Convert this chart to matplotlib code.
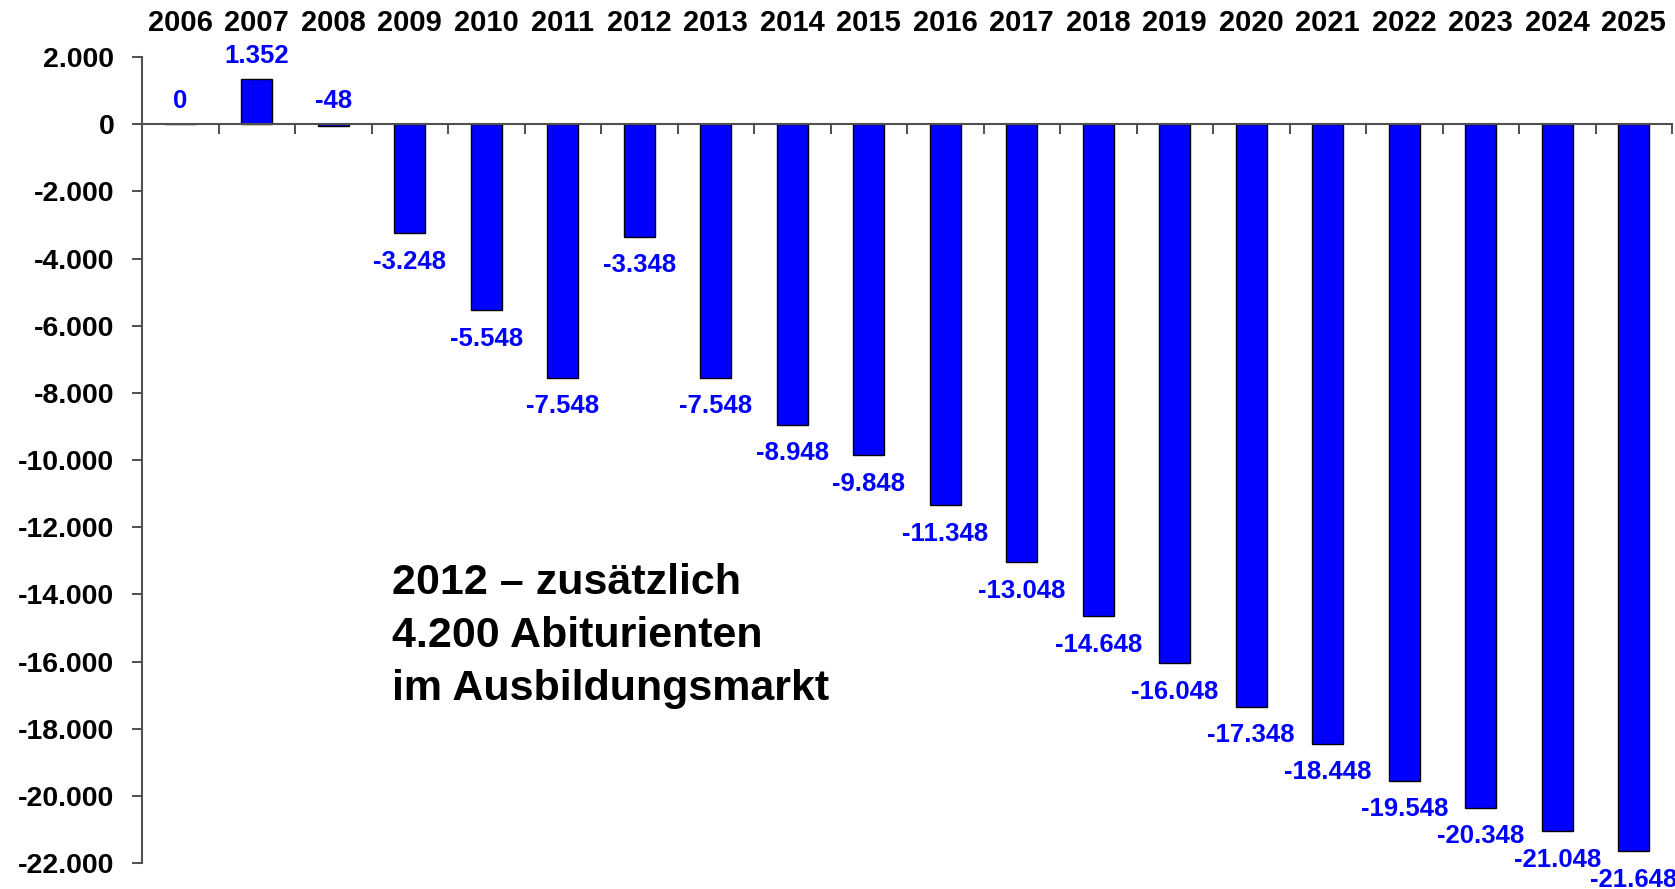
import matplotlib
matplotlib.use("Agg")
import matplotlib.pyplot as plt
import matplotlib.ticker as mticker
from matplotlib.transforms import blended_transform_factory

years = [str(y) for y in range(2006, 2026)]
values = [0, 1352, -48, -3248, -5548, -7548, -3348, -7548, -8948, -9848,
          -11348, -13048, -14648, -16048, -17348, -18448, -19548, -20348,
          -21048, -21648]
yticks = list(range(2000, -22001, -2000))
note = "2012 – zusätzlich\n4.200 Abiturienten\nim Ausbildungsmarkt"

plt.rcParams['font.family'] = ['Liberation Sans', 'DejaVu Sans']

fig = plt.figure(figsize=(16.75, 8.89), dpi=100)
ax = fig.add_axes([142/1675, 26/889, 1530/1675, 806/889])

x = list(range(len(years)))
ax.bar(x, values, width=0.41, color='#0000FF', edgecolor='black', linewidth=1.0, zorder=3)

ax.set_xlim(-0.5, len(years) - 0.5)
ax.set_ylim(-22000, 2000)

# spines
for s in ['top', 'right']:
    ax.spines[s].set_visible(False)
ax.spines['bottom'].set_position(('data', 0))
ax.spines['bottom'].set_color('#505050')
ax.spines['bottom'].set_linewidth(1.5)
ax.spines['left'].set_color('#505050')
ax.spines['left'].set_linewidth(1.5)
ax.spines['bottom'].set_zorder(4)

# x ticks at category boundaries
ax.set_xticks([i + 0.5 for i in x])
ax.set_xticklabels([])
ax.tick_params(axis='x', direction='out', length=7, width=1.2, color='#303030')

# y ticks
ax.set_yticks(yticks)
ax.yaxis.set_major_formatter(mticker.FuncFormatter(
    lambda v, p: f"{int(v):,}".replace(',', '.')))
ax.tick_params(axis='y', direction='out', length=7, width=1.2, color='#303030',
               pad=13, labelsize=20.5)
for lab in ax.get_yticklabels():
    lab.set_fontweight('bold')

# year labels at top
trans = blended_transform_factory(ax.transData, ax.transAxes)
for xi, yr in zip(x, years):
    ax.text(xi, 1.042, yr, transform=trans, ha='center', va='center',
            fontsize=21, fontweight='bold', color='black')

# value labels
for xi, v in zip(x, values):
    lab = f"{v:,}".replace(',', '.')
    if v > -100:
        ax.annotate(lab, (xi, max(v, 0)), xytext=(0, 8), textcoords='offset points',
                    ha='center', va='bottom', fontsize=18.5, fontweight='bold',
                    color='#0000FF', annotation_clip=False)
    else:
        ax.annotate(lab, (xi, v), xytext=(0, -12), textcoords='offset points',
                    ha='center', va='top', fontsize=18.5, fontweight='bold',
                    color='#0000FF', annotation_clip=False, zorder=5)

ax.text(0.1634, 0.202, note, transform=ax.transAxes, ha='left', va='baseline',
        fontsize=31, fontweight='bold', color='black', linespacing=1.42)

fig.savefig('out.png', dpi=100)
